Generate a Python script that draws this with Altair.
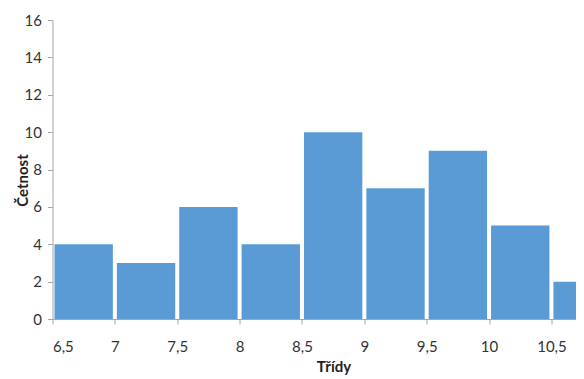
import altair as alt
import pandas as pd

bin_start = [6.5, 7.0, 7.5, 8.0, 8.5, 9.0, 9.5, 10.0, 10.5]
bin_end = [7.0, 7.5, 8.0, 8.5, 9.0, 9.5, 10.0, 10.5, 11.0]
counts = [4, 3, 6, 4, 10, 7, 9, 5, 2]
x_ticks = [6.5, 7, 7.5, 8, 8.5, 9, 9.5, 10, 10.5]
y_ticks = [0, 2, 4, 6, 8, 10, 12, 14, 16]

df = pd.DataFrame({"start": bin_start, "end": bin_end, "count": counts})

FONT = "Lato"

chart = alt.Chart(df).mark_bar(
    color="#5B9BD5", xOffset=2, x2Offset=-2, clip=True
).encode(
    x=alt.X("start:Q",
            scale=alt.Scale(domain=[6.5, 10.697], nice=False, zero=False, padding=0),
            axis=alt.Axis(values=x_ticks, title="Třídy",
                          labelExpr="replace(toString(datum.value), '.', ',')",
                          grid=False, domainColor="#A6A6A6", tickColor="#A6A6A6",
                          tickSize=5, labelPadding=15, labelFontSize=15,
                          labelColor="#333333", labelFont=FONT,
                          titleFont=FONT, titleFontSize=15, titleFontWeight="bold",
                          titleColor="#222222", titlePadding=5, titleX=281)),
    x2="end:Q",
    y=alt.Y("count:Q",
            scale=alt.Scale(domain=[0, 16], nice=False, padding=0),
            axis=alt.Axis(values=y_ticks, title="Četnost", grid=False,
                          domainColor="#A6A6A6", tickColor="#A6A6A6",
                          tickSize=5, labelPadding=6, labelFontSize=15,
                          labelColor="#333333", labelFont=FONT,
                          titleFont=FONT, titleFontSize=15, titleFontWeight="bold",
                          titleColor="#222222", titleX=-22, titleY=160,
                          titleBaseline="bottom", titleAngle=270)),
    y2=alt.datum(0),
).properties(
    width=523.5,
    height=299,
    autosize=alt.AutoSizeParams(type="none"),
    padding={"left": 44.5, "top": 12, "right": 0, "bottom": 60},
).configure_view(stroke=None)

chart.save("out.html", embed_options={"renderer": "svg", "actions": False})
